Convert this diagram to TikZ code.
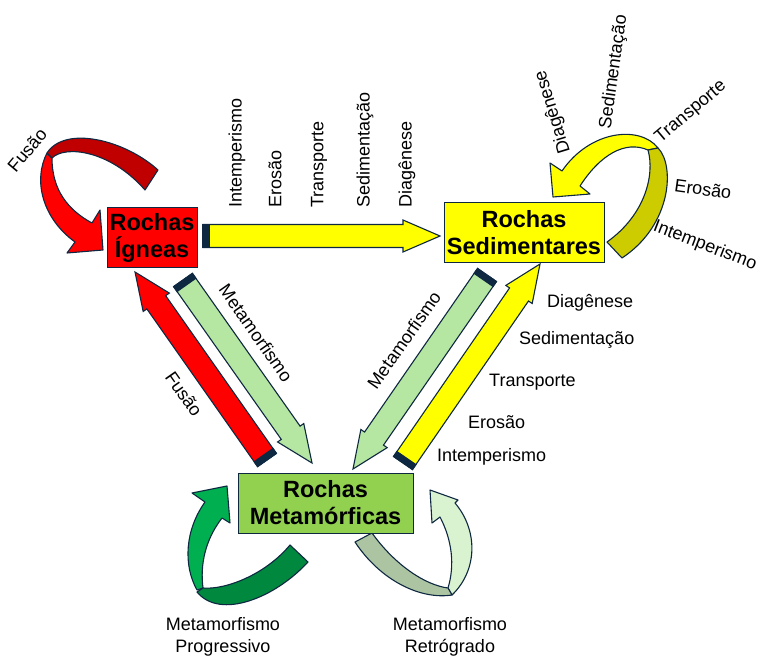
\documentclass[tikz,border=0pt]{standalone}
\usepackage{fontspec}
\setmainfont{Liberation Sans}
\usepackage{xcolor}
\usepackage{tikz}
\usetikzlibrary{calc,positioning}
\definecolor{rcedge}{RGB}{14,40,65}
\definecolor{rcred}{RGB}{255,0,0}
\definecolor{rcdarkred}{RGB}{192,0,0}
\definecolor{rcyellow}{RGB}{255,255,0}
\definecolor{rcolive}{RGB}{204,204,0}
\definecolor{rcgreen}{RGB}{146,208,80}
\definecolor{rcmint}{RGB}{181,230,162}
\definecolor{rcprog}{RGB}{0,176,80}
\definecolor{rcprogdark}{RGB}{0,136,62}
\definecolor{rcretro}{RGB}{217,242,208}
\definecolor{rcretrodark}{RGB}{173,196,163}
\newcommand{\rcarrow}[3]{%
  \coordinate (rc-h) at ($(#2)!37pt!(#1)$);
  \coordinate (rc-t) at ($(#1)!6pt!(#2)$);
  \filldraw[fill=#3,draw=rcedge,line width=1.1pt]
    ($(#1)!11.5pt!90:(#2)$) -- ($(rc-h)!11.5pt!90:(#2)$) -- ($(rc-h)!16pt!90:(#2)$)
    -- (#2) -- ($(rc-h)!16pt!-90:(#2)$) -- ($(rc-h)!11.5pt!-90:(#2)$)
    -- ($(#1)!11.5pt!-90:(#2)$) -- cycle;
  \filldraw[fill=rcedge,draw=rcedge,line width=1.1pt]
    ($(#1)!11.5pt!90:(#2)$) -- ($(rc-t)!11.5pt!90:(#2)$)
    -- ($(rc-t)!11.5pt!-90:(#2)$) -- ($(#1)!11.5pt!-90:(#2)$) -- cycle;
}

\begin{document}
\begin{tikzpicture}[
  x=1pt,y=-1pt,
  rock/.style={draw=rcedge,line width=0.8pt,align=center,inner sep=0pt,
               minimum height=60pt,font=\bfseries\fontsize{23.5}{27}\selectfont},
  lbl/.style={inner sep=0pt,font=\fontsize{18}{22}\selectfont},
  loop/.style={draw=rcedge,line width=1.1pt,line join=round}
]
  \useasboundingbox (0,0) rectangle (768,671);

  % curved arrows
  \filldraw[loop,fill=rcred]
    (47,153) .. controls (33,180) and (42,218) .. (75,242) -- (67,253) -- (103,250)
    -- (100,210) -- (92,223) .. controls (68,210) and (52,190) .. (52,158) -- cycle;
  \filldraw[loop,fill=rcdarkred]
    (145,190) -- (158,170) .. controls (125,140) and (65,125) .. (47,153)
    -- (52,158) .. controls (65,145) and (110,150) .. (145,190) -- cycle;
  \filldraw[loop,fill=rcyellow]
    (658,148) .. controls (640,125) and (590,130) .. (562,171) -- (550,163) -- (553,197)
    -- (590,194) -- (580,186) .. controls (600,155) and (625,140) .. (648,150) -- cycle;
  \filldraw[loop,fill=rcolive]
    (658,148) .. controls (675,165) and (672,225) .. (622,258) -- (607,242)
    .. controls (645,215) and (655,175) .. (648,150) -- cycle;
  \filldraw[loop,fill=rcprog]
    (197,590) .. controls (183,565) and (185,530) .. (205,502) -- (192,493) -- (227,486)
    -- (230,523) -- (222,518) .. controls (205,540) and (200,565) .. (203,588) -- cycle;
  \filldraw[loop,fill=rcprogdark]
    (290,545) -- (308,562) .. controls (275,598) and (220,620) .. (197,592)
    -- (203,588) .. controls (225,590) and (265,575) .. (290,545) -- cycle;
  \filldraw[loop,fill=rcretro]
    (452,595) .. controls (478,570) and (478,530) .. (455,503) -- (458,500) -- (430,490)
    -- (432,523) -- (440,517) .. controls (452,540) and (455,565) .. (448,588) -- cycle;
  \filldraw[loop,fill=rcretrodark]
    (355,542) -- (372,533) .. controls (395,565) and (425,585) .. (448,588)
    -- (452,595) .. controls (420,600) and (380,580) .. (355,542) -- cycle;

  \node[rock,fill=rcred,minimum width=90pt] (ign) at (152,237.5) {Rochas\\Ígneas};
  \node[rock,fill=rcyellow,minimum width=160pt] (sed) at (524,232.5) {Rochas\\Sedimentares};
  \node[rock,fill=rcgreen,minimum width=175pt] (met) at (325.5,503) {Rochas\\Metamórficas};

  \coordinate (ign-out) at (203,236);
  \coordinate (sed-in) at (440,236);
  \coordinate (met-fus) at (267,460);
  \coordinate (ign-fus) at (135,272);
  \coordinate (ign-met) at (183,280);
  \coordinate (met-ign) at (312,463);
  \coordinate (sed-met) at (487,275);
  \coordinate (met-sed) at (353,469);
  \coordinate (met-out) at (403,463);
  \coordinate (sed-out) at (540,264);

  \rcarrow{ign-out}{sed-in}{rcyellow}
  \rcarrow{met-fus}{ign-fus}{rcred}
  \rcarrow{ign-met}{met-ign}{rcmint}
  \rcarrow{sed-met}{met-sed}{rcmint}
  \rcarrow{met-out}{sed-out}{rcyellow}

  \node[lbl,rotate=90,anchor=west] (t1) at (237,208) {Intemperismo};
  \node[lbl,rotate=90,anchor=west] (t2) at (275,208) {Erosão};
  \node[lbl,rotate=90,anchor=west] (t3) at (319,208) {Transporte};
  \node[lbl,rotate=90,anchor=west] (t4) at (365,208) {Sedimentação};
  \node[lbl,rotate=90,anchor=west] (t5) at (407,208) {Diagênese};

  \node[lbl,anchor=west] (r1) at (547,303) {Diagênese};
  \node[lbl,anchor=west] (r2) at (519,340) {Sedimentação};
  \node[lbl,anchor=west] (r3) at (489,382) {Transporte};
  \node[lbl,anchor=west] (r4) at (468,422) {Erosão};
  \node[lbl,anchor=west] (r5) at (437,457) {Intemperismo};

  \node[lbl,rotate=107] (c1) at (553,112) {Diagênese};
  \node[lbl,rotate=82] (c2) at (614,72) {Sedimentação};
  \node[lbl,rotate=40] (c3) at (691,112) {Transporte};
  \node[lbl,rotate=-8] (c4) at (703,189) {Erosão};
  \node[lbl,rotate=-21] (c5) at (705,246) {Intemperismo};

  \node[lbl,rotate=50] (fus1) at (27,150) {Fusão};
  \node[lbl,rotate=-55] (fus2) at (184,394) {Fusão};
  \node[lbl,rotate=-55] (meta1) at (256,333) {Metamorfismo};
  \node[lbl,rotate=55] (meta2) at (404,340) {Metamorfismo};

  \node[lbl,align=center] (prog) at (223,637) {Metamorfismo\\Progressivo};
  \node[lbl,align=center] (retr) at (450,637) {Metamorfismo\\Retrógrado};
\end{tikzpicture}
\end{document}
